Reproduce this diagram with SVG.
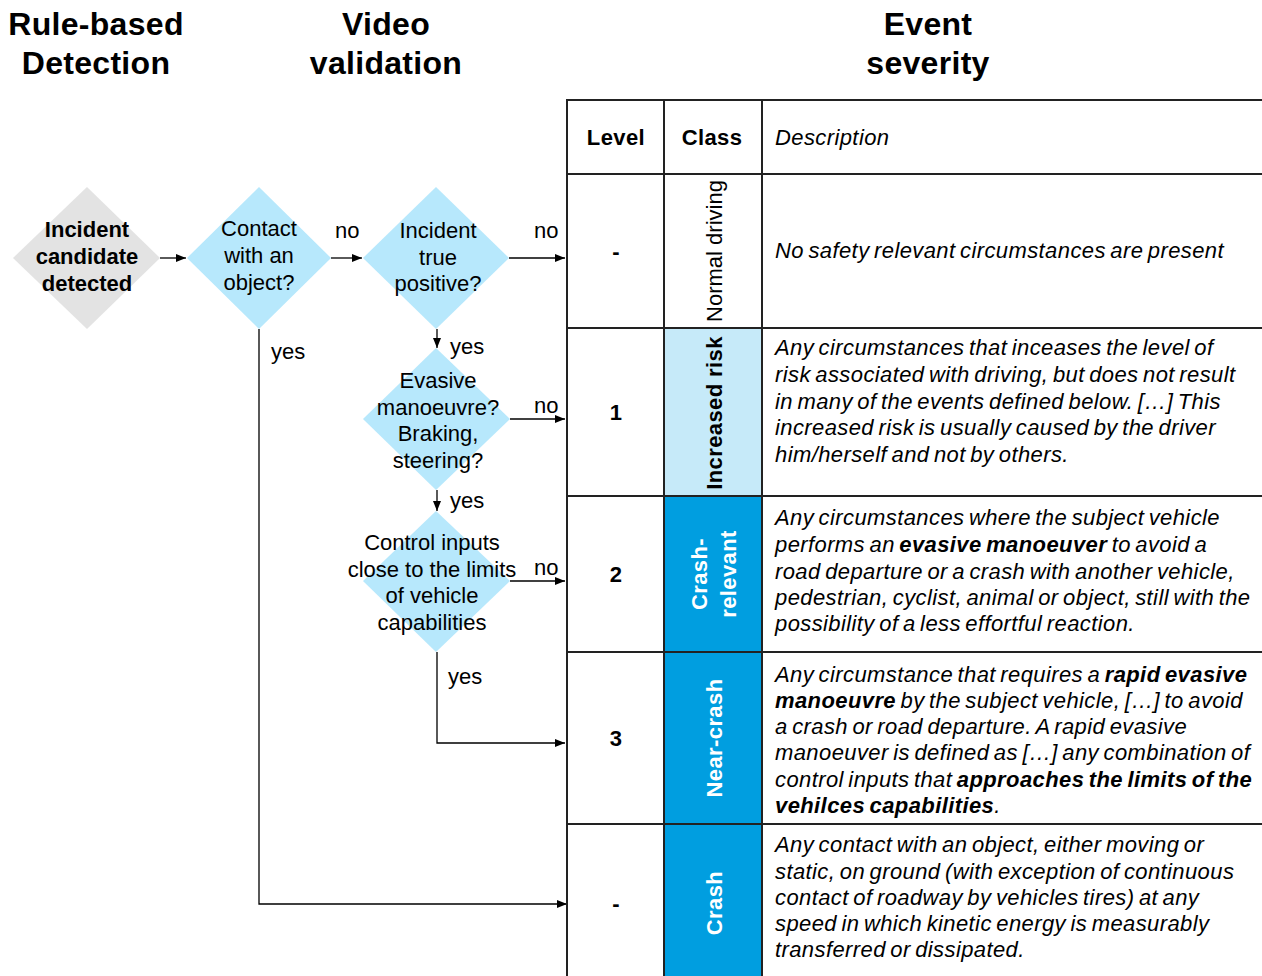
<svg xmlns="http://www.w3.org/2000/svg" width="1262" height="976" viewBox="0 0 1262 976">
<defs>
<marker id="arr" markerWidth="10" markerHeight="8" refX="10" refY="4" orient="auto" markerUnits="userSpaceOnUse">
<path d="M0,0 L10,4 L0,8 z" fill="#000"/>
</marker>
<style>
text{font-family:"Liberation Sans",Arial,sans-serif;fill:#000}
.title{font-size:32px;font-weight:bold;text-anchor:middle;letter-spacing:0.3px}
.dt{font-size:22px;text-anchor:middle}
.lbl{font-size:22px}
.hdr{font-size:22px;font-weight:bold;text-anchor:middle;letter-spacing:0.4px}
.desc{font-size:22px;font-style:italic;word-spacing:-2px;letter-spacing:0.4px}
.cls{font-size:22px;font-weight:bold;text-anchor:middle;letter-spacing:0.4px}
.wh{fill:#fff}
.conn{fill:none;stroke:#000;stroke-width:1.3}
.grid{fill:none;stroke:#222;stroke-width:2}
.dia{fill:#b7e8fc}
</style>
</defs>
<rect width="1262" height="976" fill="#fff"/>

<g id="titles">
<text class="title" x="96" y="35">Rule-based</text>
<text class="title" x="96" y="74">Detection</text>
<text class="title" x="386" y="35">Video</text>
<text class="title" x="386" y="74">validation</text>
<text class="title" x="928" y="35">Event</text>
<text class="title" x="928" y="74">severity</text>
</g>

<g id="node-detected">
<polygon points="87,187 160,258 87,329 13,258" fill="#e3e3e3"/>
<text class="dt" font-weight="bold" x="87" y="237">Incident</text>
<text class="dt" font-weight="bold" x="87" y="264">candidate</text>
<text class="dt" font-weight="bold" x="87" y="291">detected</text>
</g>

<g id="node-contact">
<polygon class="dia" points="259,187 331,258 259,329 187,258"/>
<text class="dt" x="259" y="236">Contact</text>
<text class="dt" x="259" y="263">with an</text>
<text class="dt" x="259" y="290">object?</text>
</g>

<g id="node-truepositive">
<polygon class="dia" points="436,187 509,258 436,329 363,258"/>
<text class="dt" x="438" y="238">Incident</text>
<text class="dt" x="438" y="265">true</text>
<text class="dt" x="438" y="291">positive?</text>
</g>

<g id="node-evasive">
<polygon class="dia" points="436,348 510,419 436,490 363,419"/>
<text class="dt" x="438" y="388">Evasive</text>
<text class="dt" x="438" y="415">manoeuvre?</text>
<text class="dt" x="438" y="441">Braking,</text>
<text class="dt" x="438" y="468">steering?</text>
</g>

<g id="node-control">
<polygon class="dia" points="436,511 510,581 436,652 363,581"/>
<text class="dt" x="432" y="550">Control inputs</text>
<text class="dt" x="432" y="577">close to the limits</text>
<text class="dt" x="432" y="603">of vehicle</text>
<text class="dt" x="432" y="630">capabilities</text>
</g>

<g id="connectors">
<line class="conn" x1="160" y1="258" x2="186" y2="258" marker-end="url(#arr)"/>
<line class="conn" x1="331" y1="258" x2="362" y2="258" marker-end="url(#arr)"/>
<line class="conn" x1="509" y1="258" x2="565" y2="258" marker-end="url(#arr)"/>
<line class="conn" x1="437" y1="329" x2="437" y2="348" marker-end="url(#arr)"/>
<line class="conn" x1="510" y1="419" x2="565" y2="419" marker-end="url(#arr)"/>
<line class="conn" x1="437" y1="490" x2="437" y2="511" marker-end="url(#arr)"/>
<line class="conn" x1="510" y1="581" x2="565" y2="581" marker-end="url(#arr)"/>
<polyline class="conn" points="437,652 437,743 565,743" marker-end="url(#arr)"/>
<polyline class="conn" points="259,329 259,904 567,904" marker-end="url(#arr)"/>
<text class="lbl" x="335" y="238">no</text>
<text class="lbl" x="534" y="238">no</text>
<text class="lbl" x="450" y="354">yes</text>
<text class="lbl" x="534" y="413">no</text>
<text class="lbl" x="450" y="508">yes</text>
<text class="lbl" x="534" y="575">no</text>
<text class="lbl" x="448" y="684">yes</text>
<text class="lbl" x="271" y="359">yes</text>
</g>

<g id="table">
<rect x="664" y="328" width="98" height="168" fill="#c6eaf9"/>
<rect x="664" y="496" width="98" height="480" fill="#009ee0"/>
<rect class="grid" x="567" y="100" width="697" height="880"/>
<line class="grid" x1="664" y1="100" x2="664" y2="976"/>
<line class="grid" x1="762" y1="100" x2="762" y2="976"/>
<line class="grid" x1="567" y1="174" x2="1262" y2="174"/>
<line class="grid" x1="567" y1="328" x2="1262" y2="328"/>
<line class="grid" x1="567" y1="496" x2="1262" y2="496"/>
<line class="grid" x1="567" y1="652" x2="1262" y2="652"/>
<line class="grid" x1="567" y1="824" x2="1262" y2="824"/>

<text class="hdr" x="616" y="145">Level</text>
<text class="hdr" x="712" y="145">Class</text>
<text class="desc" x="775" y="145">Description</text>

<text class="hdr" x="616" y="259">-</text>
<text class="hdr" x="616" y="420">1</text>
<text class="hdr" x="616" y="582">2</text>
<text class="hdr" x="616" y="746">3</text>
<text class="hdr" x="616" y="911">-</text>

<text class="dt" transform="translate(722,251) rotate(-90)">Normal driving</text>
<text class="cls" transform="translate(722,413) rotate(-90)">Increased risk</text>
<text class="cls wh" transform="translate(707,574) rotate(-90)">Crash-</text>
<text class="cls wh" transform="translate(736,574) rotate(-90)">relevant</text>
<text class="cls wh" transform="translate(722,738) rotate(-90)">Near-crash</text>
<text class="cls wh" transform="translate(722,903) rotate(-90)">Crash</text>

<text class="desc" x="775" y="258">No safety relevant circumstances are present</text>

<text class="desc" x="775" y="355">Any circumstances that inceases the level of</text>
<text class="desc" x="775" y="382">risk associated with driving, but does not result</text>
<text class="desc" x="775" y="409">in many of the events defined below. […] This</text>
<text class="desc" x="775" y="435">increased risk is usually caused by the driver</text>
<text class="desc" x="775" y="462">him/herself and not by others.</text>

<text class="desc" x="775" y="525">Any circumstances where the subject vehicle</text>
<text class="desc" x="775" y="552">performs an <tspan font-weight="bold">evasive manoeuver</tspan> to avoid a</text>
<text class="desc" x="775" y="579">road departure or a crash with another vehicle,</text>
<text class="desc" x="775" y="605">pedestrian, cyclist, animal or object, still with the</text>
<text class="desc" x="775" y="631">possibility of a less effortful reaction.</text>

<text class="desc" x="775" y="682">Any circumstance that requires a <tspan font-weight="bold">rapid evasive</tspan></text>
<text class="desc" x="775" y="708"><tspan font-weight="bold">manoeuvre</tspan> by the subject vehicle, […] to avoid</text>
<text class="desc" x="775" y="734">a crash or road departure. A rapid evasive</text>
<text class="desc" x="775" y="760">manoeuver is defined as […] any combination of</text>
<text class="desc" x="775" y="787">control inputs that <tspan font-weight="bold">approaches the limits of the</tspan></text>
<text class="desc" x="775" y="813"><tspan font-weight="bold">vehilces capabilities</tspan>.</text>

<text class="desc" x="775" y="852">Any contact with an object, either moving or</text>
<text class="desc" x="775" y="879">static, on ground (with exception of continuous</text>
<text class="desc" x="775" y="905">contact of roadway by vehicles tires) at any</text>
<text class="desc" x="775" y="931">speed in which kinetic energy is measurably</text>
<text class="desc" x="775" y="957">transferred or dissipated.</text>
</g>
</svg>
